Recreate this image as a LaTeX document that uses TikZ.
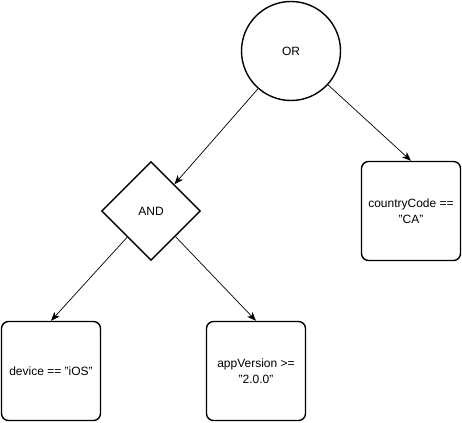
\documentclass[tikz,border=0pt]{standalone}
\usepackage{fontspec}
\setmainfont{Liberation Sans}
\usetikzlibrary{shapes.geometric,arrows.meta}
\begin{document}
\begin{tikzpicture}[x=1pt,y=-1pt,
  shapeline/.style={draw=black, line width=1.4pt, fill=white, inner sep=0pt,
    font=\fontsize{12}{16}\selectfont, align=center},
  condbox/.style={shapeline, rectangle, rounded corners=7pt, minimum width=99pt, minimum height=99pt},
  ornode/.style={shapeline, circle, minimum size=99pt},
  andnode/.style={shapeline, diamond, aspect=1, minimum width=99pt, minimum height=99pt},
  link/.style={draw=black, line width=0.7pt, -{Stealth[length=9pt,width=7pt,inset=2.5pt]}}
]
\useasboundingbox (0,0) rectangle (462,422);
\node[ornode] (or) at (291,51) {OR};
\node[andnode] (and) at (151,211) {AND};
\node[condbox] (cc) at (411,211) {countryCode ==\\"CA"};
\node[condbox] (dev) at (51,371) {device == "iOS"};
\node[condbox] (app) at (256,371) {appVersion >=\\"2.0.0"};
\draw[link] (or) -- (and);
\draw[link] (or) -- (cc.north);
\draw[link] (and) -- (dev.north);
\draw[link] (and) -- (app.north);
\end{tikzpicture}
\end{document}
